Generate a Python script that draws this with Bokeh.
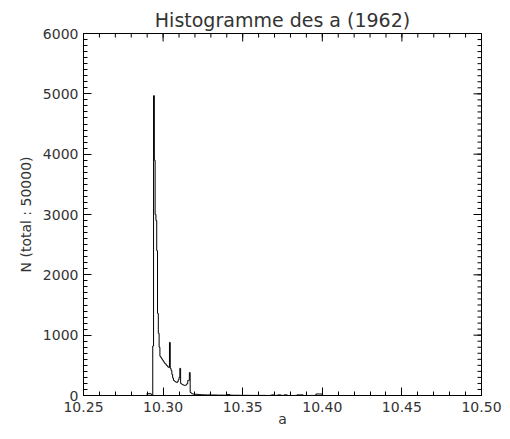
import math
from bokeh.plotting import figure
from bokeh.models import Range1d, FixedTicker, NumeralTickFormatter
from bokeh.embed import file_html
from bokeh.resources import INLINE

# ---- data ----
main_start = 10.2900
main_width = 0.0005
main_counts = [40, 30, 25, 35, 30, 15, 0, 820, 4970, 3900,
               3000, 2900, 2400, 1360, 1030, 800, 650, 630, 610, 590,
               570, 550, 530, 520, 500, 490, 470, 465, 880, 450,
               415, 350, 290, 250, 240, 230, 220, 215, 230, 260,
               300, 450, 200, 190, 180, 175, 170, 165, 170, 180,
               200, 250, 250, 380, 50, 40, 30, 25, 20, 20]
tail_start = 10.3200
tail_width = 0.002
tail_counts = [20, 15, 12, 10, 10, 8, 8, 6, 6, 5,
               15, 5, 4, 4, 3, 3, 3, 2, 2, 2,
               2, 2, 1, 1, 10, 2, 10, 2, 10, 1,
               1, 1, 10, 10, 1, 1, 1, 1, 25, 25]
x_major = [10.25, 10.30, 10.35, 10.40, 10.45, 10.50]
x_minor = [round(10.25 + 0.01 * i, 2) for i in range(26)]
y_major = [0, 1000, 2000, 3000, 4000, 5000, 6000]
y_minor = [100 * i for i in range(61)]
x_lo, x_hi = 10.25, 10.50
y_lo, y_hi = 0, 6000
title_text = "Histogramme des a (1962)"
xlabel = "a"
ylabel = "N (total : 50000)"

# ---- build step path ----
edges = [main_start + main_width * i for i in range(len(main_counts) + 1)]
edges_t = [tail_start + tail_width * i for i in range(len(tail_counts) + 1)]
counts = list(main_counts) + list(tail_counts)
all_edges = edges[:-1] + edges_t
xs = [all_edges[0]]
ys = [0]
for i, c in enumerate(counts):
    xs += [all_edges[i], all_edges[i + 1]]
    ys += [c, c]
xs.append(all_edges[-1])
ys.append(0)

FONT = "DejaVu Sans"
TXT = "#333333"

p = figure(width=502, height=431, output_backend="svg", toolbar_location=None,
           x_range=Range1d(x_lo, x_hi), y_range=Range1d(y_lo, y_hi),
           min_border_left=83, min_border_right=21, min_border_top=33,
           min_border_bottom=36)
p.background_fill_color = "white"
p.border_fill_color = "white"
p.outline_line_color = "black"
p.xgrid.visible = False
p.ygrid.visible = False

p.title.text = title_text
p.title.align = "center"
p.title.text_font = FONT
p.title.text_font_size = "19px"
p.title.text_font_style = "normal"
p.title.text_color = TXT
p.title.standoff = 6

p.line(xs, ys, line_color="black", line_width=1)

# mirrored inward ticks on top and right edges
p.ray(x=x_minor, y=[y_hi] * len(x_minor), length=4, angle=-math.pi / 2,
      length_units="screen", line_color="black", line_width=1)
p.ray(x=x_major, y=[y_hi] * len(x_major), length=8, angle=-math.pi / 2,
      length_units="screen", line_color="black", line_width=1)
p.ray(x=[x_hi] * len(y_minor), y=y_minor, length=4, angle=math.pi,
      length_units="screen", line_color="black", line_width=1)
p.ray(x=[x_hi] * len(y_major), y=y_major, length=8, angle=math.pi,
      length_units="screen", line_color="black", line_width=1)


def style(ax):
    ax.major_tick_in = 8
    ax.major_tick_out = 0
    ax.minor_tick_in = 4
    ax.minor_tick_out = 0
    ax.axis_line_color = "black"
    ax.major_tick_line_color = "black"
    ax.minor_tick_line_color = "black"
    ax.major_label_text_font = FONT
    ax.major_label_text_color = TXT
    ax.axis_label_text_font = FONT
    ax.axis_label_text_color = TXT
    ax.axis_label_text_font_style = "normal"
    ax.major_label_text_font_size = "14px"
    ax.axis_label_text_font_size = "14px"


xb = p.xaxis[0]
xb.ticker = FixedTicker(ticks=x_major, minor_ticks=x_minor)
xb.formatter = NumeralTickFormatter(format="0.00")
xb.axis_label = xlabel
style(xb)
xb.major_label_standoff = 6
xb.axis_label_standoff = -4

yl = p.yaxis[0]
yl.ticker = FixedTicker(ticks=y_major, minor_ticks=y_minor)
yl.axis_label = ylabel
style(yl)
yl.major_label_standoff = 5
yl.axis_label_standoff = 6

open("out.html", "w").write(file_html(p, INLINE))
